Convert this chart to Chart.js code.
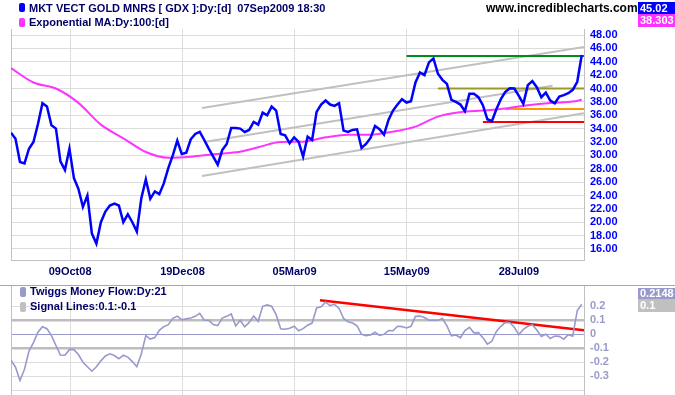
<!DOCTYPE html>
<html>
<head>
<meta charset="utf-8">
<script src="https://cdn.jsdelivr.net/npm/chart.js@4.4.0/dist/chart.umd.min.js"></script>
<style>
  body { margin: 0; background: #fff; }
  #wrap { position: relative; width: 675px; height: 395px; overflow: hidden;
          font-family: 'Liberation Sans', Arial, sans-serif; font-weight: bold; font-size: 11px; }
  #wrap canvas { position: absolute; left: 0; }
  .txt { position: absolute; white-space: pre; line-height: 11px; color: #000066; }
  .key { position: absolute; left: 19px; width: 6px; height: 9px; border-radius: 2px; }
  .box { position: absolute; left: 638px; width: 37px; color: #fff; padding-left: 2px; box-sizing: border-box; }
  #sep { position: absolute; left: 0; top: 285px; width: 675px; height: 1px; background: #a8a8a8; }
</style>
</head>
<body>
<div id="wrap">
  <canvas id="main" width="675" height="283" style="top:0"></canvas>
  <canvas id="tmf" width="675" height="112" style="top:283px"></canvas>
  <div id="sep"></div>

  <div class="key" style="top:3px;background:#0000ff"></div>
  <div class="txt" style="left:29px;top:3px">MKT VECT GOLD MNRS [ GDX ]:Dy:[d]  07Sep2009 18:30</div>
  <div class="key" style="top:18px;background:#ff33ff"></div>
  <div class="txt" style="left:29px;top:17px">Exponential MA:Dy:100:[d]</div>
  <div class="txt" style="left:486px;top:2px;font-size:12px;line-height:12px;color:#000">www.incrediblecharts.com</div>
  <div class="box" style="top:2px;height:12px;line-height:12px;background:#0000ff">45.02</div>
  <div class="box" style="top:14px;height:13px;line-height:13px;background:#ff33ff">38.303</div>

  <div class="key" style="top:287px;height:10px;left:20px;background:#9999cc"></div>
  <div class="txt" style="left:30px;top:286px">Twiggs Money Flow:Dy:21</div>
  <div class="key" style="top:302px;height:10px;left:20px;background:#c0c0c0"></div>
  <div class="txt" style="left:30px;top:301px">Signal Lines:0.1:-0.1</div>
  <div class="box" style="top:288px;height:11px;line-height:11px;background:#9999cc">0.2148</div>
  <div class="box" style="top:299px;height:13px;line-height:13px;background:#c0c0c0">0.1</div>
</div>
<script>
// trading days counted from the first bar (early Sep 2008)
const tickDays = [26.3, 76.3, 126.2, 176.1, 226.0];
const tickLabels = ['09Oct08', '19Dec08', '05Mar09', '15May09', '28Jul09'];
const priceTicks = [16, 18, 20, 22, 24, 26, 28, 30, 32, 34, 36, 38, 40, 42, 44, 46, 48];
const tmfTicks = [0.2, 0.1, 0, -0.1, -0.2, -0.3, -0.4];

// one reading every 2 trading days
const barStep = 2;
const price = [
    33.4, 32.5, 29.0, 28.8, 31.0, 32.0, 34.7, 37.8, 37.3, 34.5,
    34.0, 29.1, 27.8, 31.0, 26.6, 25.0, 22.3, 24.0, 18.3, 16.8,
    20.0, 21.6, 22.5, 22.8, 22.5, 20.0, 21.2, 20.0, 18.6, 23.6,
    26.4, 23.5, 24.6, 24.2, 25.8, 28.1, 30.0, 32.2, 30.2, 30.4,
    32.4, 33.2, 33.5, 32.3, 31.0, 29.8, 28.6, 30.8, 31.7, 34.1,
    34.1, 34.0, 33.5, 33.8, 35.0, 34.6, 36.4, 36.0, 37.3, 36.7,
    33.2, 33.0, 31.8, 32.7, 32.0, 29.8, 32.8, 32.3, 36.5, 37.6,
    38.2, 37.6, 37.4, 37.8, 33.7, 33.5, 33.8, 33.9, 31.1, 31.7,
    32.6, 34.4, 33.9, 33.1, 35.3, 36.7, 37.6, 38.4, 37.9, 38.1,
    40.9, 42.4, 42.0, 43.9, 44.5, 42.2, 41.3, 40.7, 38.3, 38.0,
    37.6, 36.6, 39.2, 39.2, 38.7, 37.5, 35.4, 35.1, 36.9, 38.4,
    39.5, 40.05, 40.0, 38.9, 37.7, 40.5, 41.1, 40.2, 38.7, 39.4,
    38.2, 37.8, 38.8, 39.0, 39.3, 39.8, 41.0, 45.02
];

const emaDays = [0, 10, 20, 30, 40, 50, 60, 70, 80, 90, 100, 110, 120, 130,
    140, 150, 160, 170, 180, 190, 200, 210, 220, 230, 240, 250, 254];
const ema = [43.05, 40.9, 40.0, 37.85, 34.6, 32.55, 30.5, 29.65, 29.8, 30.15,
    30.45, 31.2, 32.0, 32.05, 32.7, 33.1, 33.1, 33.55, 34.3, 35.8,
    36.45, 36.7, 37.0, 37.5, 37.85, 38.05, 38.303];

const tmf = [
    -0.186, -0.235, -0.33, -0.25, -0.12, -0.06, 0.015, 0.054, 0.04, -0.01,
    -0.08, -0.148, -0.15, -0.11, -0.11, -0.145, -0.2, -0.232, -0.264, -0.232,
    -0.19, -0.155, -0.14, -0.152, -0.175, -0.15, -0.163, -0.195, -0.232, -0.14,
    -0.01, -0.034, -0.024, 0.028, 0.055, 0.069, 0.114, 0.13, 0.104, 0.11,
    0.116, 0.128, 0.15, 0.1, 0.1, 0.069, 0.062, 0.116, 0.128, 0.145,
    0.06, 0.1, 0.054, 0.085, 0.13, 0.093, 0.2, 0.21, 0.2, 0.14,
    0.04, 0.036, 0.043, 0.057, 0.025, 0.04, 0.065, 0.08, 0.188, 0.197,
    0.23, 0.205, 0.214, 0.185, 0.113, 0.09, 0.08, 0.06, 0.0, -0.01,
    -0.005, 0.014, -0.008, 0.0, 0.026, 0.025, 0.057, 0.055, 0.045, 0.057,
    0.128, 0.13, 0.12, 0.1, 0.1, 0.1, 0.112, 0.06, -0.012, -0.005,
    -0.025, 0.027, 0.05, 0.01, 0.012, -0.024, -0.07, -0.05, 0.02, 0.057,
    0.085, 0.082, 0.05, -0.002, 0.035, 0.057, 0.068, 0.03, -0.016, 0.0,
    -0.03, -0.012, -0.015, -0.035, -0.003, -0.013, 0.17, 0.2148
];

// drawn trend channel and support / resistance levels
const channelDays = [[85, 255], [86, 241], [85, 255]];
const channelValues = [[37.1, 46.2], [32.0, 40.4], [26.9, 36.3]];
const levelValues = [44.85, 40.0, 36.95, 35.0];
const levelStartDays = [176, 190, 220, 210];
const lastDay = 255;
const tmfTrendDays = [137.5, 255];
const tmfTrendValues = [0.243, 0.028];

Chart.defaults.font.family = "'Liberation Sans', Arial, sans-serif";
Chart.defaults.font.size = 11;
Chart.defaults.font.weight = 'bold';

const gridColor = '#dddddd';
const borderColor = '#c0c0c0';

let line = function (points, color, width) {
    return {
        data: points,
        borderColor: color,
        borderWidth: width,
        pointRadius: 0,
        fill: false,
        tension: 0
    };
};

let leftFrame = {
    id: 'leftFrame',
    beforeDatasetsDraw: function (chart) {
        let ctx = chart.ctx, area = chart.chartArea;
        ctx.save();
        ctx.strokeStyle = borderColor;
        ctx.lineWidth = 1;
        ctx.beginPath();
        ctx.moveTo(Math.round(area.left) + 0.5, area.top);
        ctx.lineTo(Math.round(area.left) + 0.5, area.bottom);
        ctx.stroke();
        ctx.restore();
    }
};

let setTicks = function (values) {
    return function (scale) {
        scale.ticks = values.map(function (v) { return {value: v}; });
    };
};

let noPad = function (size, key) {
    return function (scale) {
        scale[key] = size;
        scale.paddingTop = 0;
        scale.paddingBottom = 0;
        scale.paddingLeft = 0;
        scale.paddingRight = 0;
    };
};

let priceData = price.map(function (v, i) { return {x: i * barStep, y: v}; });
let emaData = ema.map(function (v, i) { return {x: emaDays[i], y: v}; });
let tmfData = tmf.map(function (v, i) { return {x: i * barStep, y: v}; });

let levelColors = ['#008c1a', '#9a9a28', '#ff9900', '#ff0000'];
let mainSets = [
    line(priceData, '#0000ff', 2.5),
    Object.assign(line(emaData, '#ff33ff', 2), {cubicInterpolationMode: 'monotone'})
];
levelValues.forEach(function (v, i) {
    mainSets.push(line([{x: levelStartDays[i], y: v}, {x: lastDay, y: v}], levelColors[i], 2));
});
channelValues.forEach(function (vals, i) {
    mainSets.push(line([
        {x: channelDays[i][0], y: vals[0]},
        {x: channelDays[i][1], y: vals[1]}
    ], '#c0c0c0', 2));
});

new Chart(document.getElementById('main'), {
    type: 'line',
    data: {datasets: mainSets},
    options: {
        responsive: false,
        animation: false,
        events: [],
        layout: {padding: {left: 11, top: 29, right: 0, bottom: 0}},
        plugins: {legend: {display: false}, tooltip: {enabled: false}},
        scales: {
            x: {
                type: 'linear',
                min: 0,
                max: lastDay,
                afterBuildTicks: setTicks(tickDays),
                afterFit: noPad(23, 'height'),
                grid: {color: gridColor, drawTicks: false},
                border: {color: borderColor},
                ticks: {
                    color: '#000066',
                    padding: 5,
                    autoSkip: false,
                    maxRotation: 0,
                    callback: function (v, i) { return tickLabels[i]; }
                }
            },
            y: {
                type: 'linear',
                position: 'right',
                min: 14.35,
                max: 48.9,
                afterBuildTicks: setTicks(priceTicks),
                afterFit: noPad(91, 'width'),
                grid: {color: gridColor, drawTicks: false},
                border: {color: borderColor},
                ticks: {
                    color: '#0000ff',
                    padding: 6,
                    autoSkip: false,
                    callback: function (v) { return v.toFixed(2); }
                }
            }
        }
    },
    plugins: [leftFrame]
});

let isSignal = function (v) { return Math.abs(Math.abs(v) - 0.1) < 1e-6; };

new Chart(document.getElementById('tmf'), {
    type: 'line',
    data: {
        datasets: [
            line(tmfData, '#9999cc', 1.6),
            line([
                {x: tmfTrendDays[0], y: tmfTrendValues[0]},
                {x: tmfTrendDays[1], y: tmfTrendValues[1]}
            ], '#ff0000', 2.5)
        ]
    },
    options: {
        responsive: false,
        animation: false,
        events: [],
        layout: {padding: {left: 11, top: 3, right: 0, bottom: 0}},
        plugins: {legend: {display: false}, tooltip: {enabled: false}},
        scales: {
            x: {
                type: 'linear',
                min: 0,
                max: lastDay,
                afterBuildTicks: setTicks(tickDays),
                afterFit: noPad(0, 'height'),
                grid: {color: gridColor, drawTicks: false},
                border: {display: false},
                ticks: {display: false, autoSkip: false}
            },
            y: {
                type: 'linear',
                position: 'right',
                min: -0.434,
                max: 0.345,
                afterBuildTicks: setTicks(tmfTicks),
                afterFit: noPad(91, 'width'),
                grid: {
                    drawTicks: false,
                    color: function (c) {
                        if (c.tick.value === 0) return '#9999cc';
                        return isSignal(c.tick.value) ? '#bdbdbd' : gridColor;
                    },
                    lineWidth: function (c) { return isSignal(c.tick.value) ? 2.5 : 1; }
                },
                border: {color: borderColor},
                ticks: {
                    color: '#9999cc',
                    padding: 6,
                    autoSkip: false,
                    callback: function (v) { return v < -0.35 ? '' : String(Math.round(v * 10) / 10); }
                }
            }
        }
    },
    plugins: [leftFrame]
});
</script>
</body>
</html>
